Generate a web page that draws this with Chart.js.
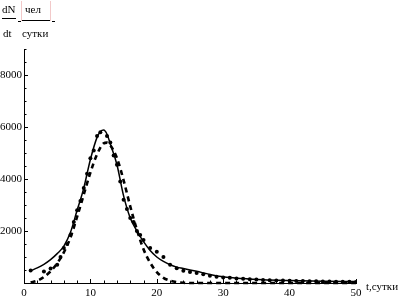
<!DOCTYPE html>
<html>
<head>
<meta charset="utf-8">
<script src="https://cdn.jsdelivr.net/npm/chart.js@4"></script>
<style>
html, body { margin: 0; padding: 0; background: #fff; }
</style>
</head>
<body>
<canvas id="myChart" width="404" height="305"></canvas>
<script>
// model curve (solid)
var modelT = [1, 2, 3, 4, 5, 6, 7, 8, 8.5, 9, 10, 11, 11.5, 12, 12.5, 13, 14, 15, 16, 17, 18, 19, 20, 21, 22, 23, 24, 26, 28, 30, 33, 36, 40, 45, 50];
var modelN = [470, 580, 720, 900, 1130, 1420, 1950, 2800, 3200, 3650, 4750, 5600, 5820, 5880, 5720, 5350, 4550, 3350, 2500, 2000, 1590, 1250, 1000, 830, 700, 610, 560, 450, 330, 240, 170, 125, 95, 70, 55];

// second model (dashed)
var altT = [1, 2, 3, 4, 5, 6, 7, 8, 9, 10, 11, 12, 12.5, 13, 14, 15, 16, 17, 18, 19, 20, 21, 22, 23, 24, 25, 30, 35, 40, 45, 50];
var altN = [20, 90, 230, 450, 760, 1180, 1750, 2550, 3400, 4250, 4950, 5370, 5400, 5300, 4800, 3950, 2950, 2050, 1300, 780, 420, 200, 90, 35, 10, 0, 0, 0, 0, 0, 0];

// observed points
var obsT = [1, 3, 4, 5, 5.5, 6, 6.5, 7, 7.5, 8, 8.5, 9, 9.5, 10, 10.5, 11, 11.5, 12.5, 13, 13.5, 14, 14.5, 15, 15.5, 16, 16.5, 17, 17.5, 18, 19, 20, 21, 22, 23, 24, 25, 26, 27, 28, 29, 30, 31, 32, 33, 34, 35, 36, 37, 38, 39, 40, 41, 42, 43, 44, 45, 46, 47, 48, 49, 50];
var obsN = [480, 440, 560, 700, 1000, 1350, 1500, 1850, 2350, 2800, 3150, 3650, 4200, 4800, 5100, 5650, 5800, 5650, 5400, 4900, 4550, 3900, 3200, 2850, 2500, 2350, 2000, 1850, 1650, 1350, 1200, 1000, 700, 570, 470, 420, 380, 340, 280, 240, 210, 200, 170, 160, 140, 130, 120, 110, 100, 95, 90, 80, 75, 70, 65, 60, 55, 50, 50, 45, 40];

var xTicks = [0, 10, 20, 30, 40, 50];
var yTicks = [2000, 4000, 6000, 8000];

function pairs(xs, ys) {
  return xs.map(function (x, i) { return { x: x, y: ys[i] }; });
}

var serif = "'Liberation Serif', 'Times New Roman', serif";

// inward ticks + axis titles
var extras = {
  id: "extras",
  afterDraw: function (chart) {
    var ctx = chart.ctx;
    var xs = chart.scales.x, ys = chart.scales.y;
    var a = chart.chartArea;
    ctx.save();
    ctx.strokeStyle = "#000";
    ctx.lineWidth = 1;
    ctx.beginPath();
    for (var t = 0; t <= 50; t += 2) {
      var px = Math.round(xs.getPixelForValue(t)) + 0.5;
      var len = t % 10 === 0 ? 4 : 2.5;
      ctx.moveTo(px, a.bottom);
      ctx.lineTo(px, a.bottom - len);
    }
    for (var v = 500; v <= 9000; v += 500) {
      var py = Math.round(ys.getPixelForValue(v)) + 0.5;
      var l = v % 2000 === 0 ? 4 : 2.5;
      ctx.moveTo(a.left, py);
      ctx.lineTo(a.left + l, py);
    }
    ctx.stroke();

    ctx.fillStyle = "#000";
    ctx.font = "11px " + serif;
    ctx.textBaseline = "alphabetic";
    ctx.textAlign = "left";
    ctx.fillText("dN", 2, 13);
    ctx.fillText("dt", 3, 37);
    ctx.fillText("чел", 25, 13);
    ctx.fillText("сутки", 22, 37);
    ctx.fillText("t,сутки", 366, 290);
    ctx.beginPath();
    ctx.moveTo(2, 18.5); ctx.lineTo(16, 18.5);
    ctx.moveTo(22, 20.5); ctx.lineTo(50, 20.5);
    ctx.moveTo(18, 21.5); ctx.lineTo(21, 21.5);
    ctx.moveTo(52, 21.5); ctx.lineTo(55, 21.5);
    ctx.stroke();
    ctx.strokeStyle = "#f2c9c9";
    ctx.beginPath();
    ctx.moveTo(21.5, 1); ctx.lineTo(21.5, 21);
    ctx.moveTo(50.5, 1); ctx.lineTo(50.5, 21);
    ctx.stroke();
    ctx.restore();
  }
};

new Chart("myChart", {
  type: "scatter",
  data: {
    datasets: [
      {
        type: "line",
        data: pairs(modelT, modelN),
        borderColor: "#000",
        borderWidth: 1.5,
        pointRadius: 0,
        cubicInterpolationMode: "monotone",
        fill: false,
      },
      {
        type: "line",
        data: pairs(altT, altN),
        borderColor: "#000",
        borderWidth: 2.6,
        borderDash: [5, 4],
        pointRadius: 0,
        cubicInterpolationMode: "monotone",
        fill: false,
        clip: false,
      },
      {
        data: pairs(obsT, obsN),
        backgroundColor: "#000",
        borderColor: "#000",
        pointRadius: 2,
        borderWidth: 0,
      },
    ],
  },
  options: {
    responsive: false,
    animation: false,
    devicePixelRatio: 1,
    layout: { padding: { left: 0, top: 49, right: 48, bottom: 0 } },
    plugins: { legend: { display: false }, tooltip: { enabled: false } },
    scales: {
      x: {
        type: "linear",
        min: 0,
        max: 50,
        grid: { display: false, drawTicks: false },
        border: { display: true, color: "#000", width: 1 },
        afterBuildTicks: function (s) {
          s.ticks = xTicks.map(function (v) { return { value: v }; });
        },
        afterFit: function (s) { s.height = 22; },
        ticks: {
          color: "#000", padding: 4, maxRotation: 0,
          font: { family: serif, size: 11 },
          callback: function (v) { return String(v); },
        },
      },
      y: {
        type: "linear",
        min: 0,
        max: 9000,
        grid: { display: false, drawTicks: false },
        border: { display: true, color: "#000", width: 1 },
        afterBuildTicks: function (s) {
          s.ticks = yTicks.map(function (v) { return { value: v }; });
        },
        afterFit: function (s) { s.width = 24; },
        ticks: {
          color: "#000", padding: 2,
          font: { family: serif, size: 11 },
          callback: function (v) { return String(v); },
        },
      },
    },
  },
  plugins: [extras],
});
</script>
</body>
</html>
